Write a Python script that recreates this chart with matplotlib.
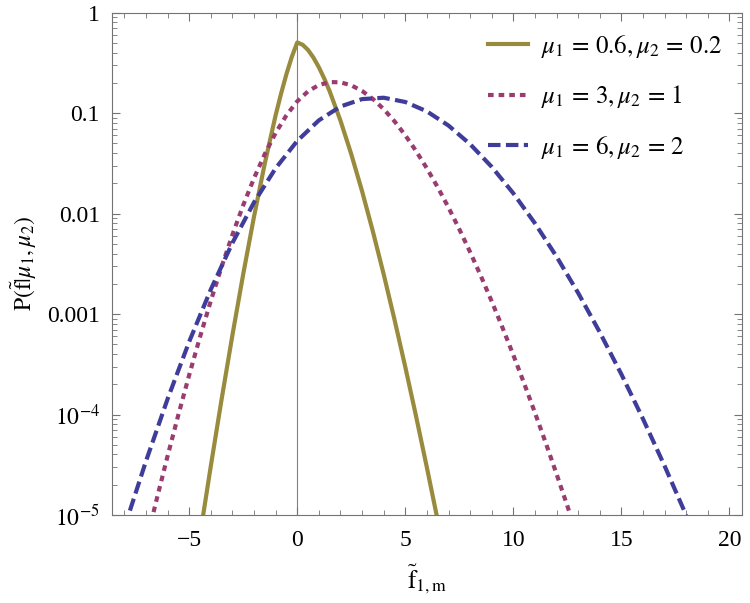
import numpy as np
import matplotlib
matplotlib.use("Agg")
import matplotlib.pyplot as plt
from matplotlib.ticker import FixedLocator, MultipleLocator, LogLocator, NullFormatter

plt.rcParams['font.family'] = ['Liberation Serif', 'DejaVu Serif']
plt.rcParams['mathtext.fontset'] = 'stix'

# curve values (log scale)
f1 = [-5, -4.5, -4, -3.5, -3, -2.5, -2, -1.5, -1, -0.75, -0.5, -0.25, 0,
      0.25, 0.5, 0.75, 1, 1.25, 1.5, 2, 2.5, 3, 3.5, 4, 4.5, 5, 5.5, 6, 6.5, 7]
p1 = [1.22e-6, 6.28e-6, 3.07e-5, 1.42e-4, 6.17e-4, 2.50e-3, 9.35e-3, 0.0317,
      0.0954, 0.156, 0.245, 0.364, 0.505, 0.479, 0.425, 0.357, 0.286, 0.221,
      0.165, 0.0842, 0.0390, 0.0167, 0.00664, 0.00249, 8.81e-4, 2.97e-4,
      9.57e-5, 2.96e-5, 8.82e-6, 2.53e-6]

f2 = [-7, -6.5, -6, -5.5, -5, -4.5, -4, -3.5, -3, -2.5, -2, -1.5, -1, -0.5,
      0, 0.5, 1, 1.5, 2, 2.5, 3, 3.5, 4, 4.5, 5, 5.5, 6, 6.5, 7, 7.5, 8, 8.5,
      9, 9.5, 10, 10.5, 11, 11.5, 12, 12.5, 13]
p2 = [5.25e-6, 1.447e-5, 3.863e-5, 9.961e-5, 2.475e-4, 5.913e-4, 1.3535e-3,
      2.960e-3, 6.157e-3, 0.01213, 0.02252, 0.03921, 0.06353, 0.09521,
      0.1311, 0.1649, 0.1906, 0.2037, 0.2027, 0.1891, 0.1662, 0.1384, 0.1096,
      0.08295, 0.06015, 0.04192, 0.02816, 0.01827, 0.01148, 0.006992,
      0.004137, 0.002382, 0.001336, 7.307e-4, 3.903e-4, 2.038e-4, 1.041e-4,
      5.210e-5, 2.555e-5, 1.229e-5, 5.80e-6]

f3 = [-8, -7, -6, -5, -4, -3, -2, -1, 0, 1, 2, 3, 4, 5, 6, 7, 8, 9, 10, 11,
      12, 13, 14, 15, 16, 17, 18]
p3 = [7.48e-6, 3.437e-5, 1.428e-4, 5.314e-4, 1.757e-3, 5.108e-3, 0.01293,
      0.02826, 0.05292, 0.08476, 0.1164, 0.1379, 0.1423, 0.1291, 0.1041,
      0.07518, 0.04909, 0.02919, 0.01591, 0.008001, 0.003731, 0.001621,
      6.586e-4, 2.514e-4, 9.04e-5, 3.075e-5, 9.91e-6]

labels = [r'$\mu_1\,{=}\,0.6, \mu_2\,{=}\,0.2$',
          r'$\mu_1\,{=}\,3, \mu_2\,{=}\,1$',
          r'$\mu_1\,{=}\,6, \mu_2\,{=}\,2$']
colors = [(0.6, 0.547, 0.24), (0.6, 0.24, 0.443), (0.247, 0.24, 0.6)]

ytick_vals = [1e-5, 1e-4, 1e-3, 1e-2, 1e-1, 1]
ytick_labels = [r'$10^{-5}$', r'$10^{-4}$', '0.001', '0.01', '0.1', '1']

fig = plt.figure(figsize=(7.5, 6.03), dpi=100)
ax = fig.add_axes([0.1497, 0.146, 0.8393, 0.833])

ax.axvline(0, color='0.5', lw=0.8, zorder=0)

lw = 3.0
ax.plot(f1, p1, color=colors[0], lw=lw, label=labels[0])
ax.plot(f2, p2, color=colors[1], lw=lw, dashes=(1.35, 1.2),
        dash_capstyle='butt', label=labels[1])
ax.plot(f3, p3, color=colors[2], lw=lw, dashes=(3.0, 1.3),
        dash_capstyle='butt', label=labels[2])

ax.set_yscale('log')
ax.set_xlim(-8.56, 20.57)
ax.set_ylim(1e-5, 1)

ax.xaxis.set_major_locator(FixedLocator([-5, 0, 5, 10, 15, 20]))
ax.xaxis.set_minor_locator(MultipleLocator(1))
ax.set_xticklabels(['\u22125', '0', '5', '10', '15', '20'])
ax.yaxis.set_major_locator(FixedLocator(ytick_vals))
ax.set_yticklabels(ytick_labels)
ax.yaxis.set_minor_locator(LogLocator(base=10, subs=np.arange(2, 10)))
ax.yaxis.set_minor_formatter(NullFormatter())

ax.tick_params(which='both', direction='in', top=True, right=True,
               color='0.45', labelsize=17)
ax.tick_params(axis='x', pad=11)
ax.tick_params(axis='y', pad=9)
ax.tick_params(which='major', length=6, width=0.8)
ax.tick_params(which='minor', length=3.5, width=0.6)
for s in ax.spines.values():
    s.set_color('0.45')
    s.set_linewidth(0.8)

ax.set_xlabel(r'$\tilde{\mathrm{f}}_{\mathrm{1,m}}$', fontsize=18, labelpad=8)
ax.set_ylabel(r'$\mathrm{P}(\tilde{\mathrm{f}}|\mu_1,\mu_2)$', fontsize=17, labelpad=6)

ax.legend(loc='upper right', frameon=False, fontsize=18, handlelength=1.6,
          handletextpad=0.5, labelspacing=0.95, borderaxespad=0.4)

fig.savefig('out.png', dpi=100)
